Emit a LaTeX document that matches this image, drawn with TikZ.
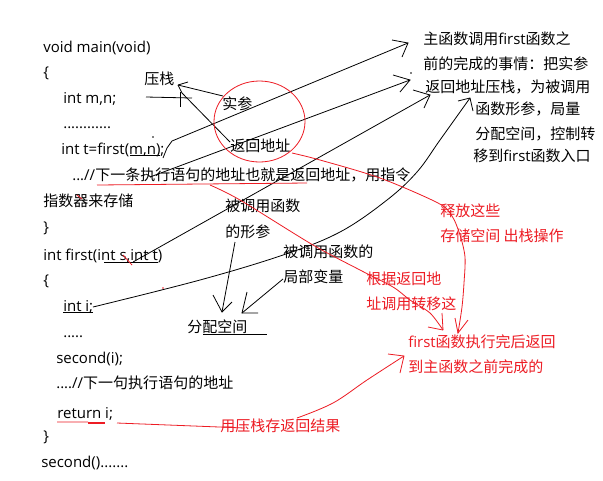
\documentclass[tikz,border=0pt]{standalone}
\usepackage{fontspec}
\setmainfont{Open Sans}
\newfontfamily\cjkf{Noto Sans CJK SC}
\newcommand\zh[1]{{\cjkf #1}}
\definecolor{pred}{HTML}{ED1C24}
\begin{document}
\begin{tikzpicture}[x=0.75pt,y=-0.75pt,
  txt/.style={anchor=base west,inner sep=0pt,font=\fontsize{11.25pt}{13pt}\selectfont},
  rtxt/.style={txt,text=pred},
  bl/.style={draw=black,line width=0.6pt},
  rl/.style={draw=pred,line width=0.6pt}]
\useasboundingbox (0,0) rectangle (603,480);
\fill[white] (0,0) rectangle (603,480);

% ---------- code ----------
\node[txt] (l1) at (43,52) {void main(void)};
\node[txt] (l2) at (43,77) {\{};
\node[txt] (l3) at (63,103) {int m,n;};
\node[txt] (l4) at (63,128) {............};
\node[txt] (l5) at (61,154) {int t=first(m,n);};
\node[txt] (l6) at (72,180) {...//\zh{下一条执行语句的地址也就是返回地址，用指令}};
\node[txt] (l7) at (43,206) {\zh{指数器来存储}};
\node[txt] (l8) at (43,232) {\}};
\node[txt] (l9) at (43,260) {int first(int s,int t)};
\node[txt] (l10) at (43,285) {\{};
\node[txt] (l11) at (63,311) {int i;};
\node[txt] (l12) at (63,337) {.....};
\node[txt] (l13) at (56,363) {second(i);};
\node[txt] (l14) at (56,388) {....//\zh{下一句执行语句的地址}};
\node[txt] (l15) at (57,418) {return i;};
\node[txt] (l16) at (43,441) {\}};
\node[txt] (l17) at (41,467) {second().......};

% ---------- black labels ----------
\node[txt] (yazhan) at (144,84) {\zh{压栈}};
\node[txt] (shican) at (222,109) {\zh{实参}};
\node[txt] (fhdz) at (230,151) {\zh{返回地址}};
\node[txt] (m1) at (423,44) {\zh{主函数调用}first\zh{函数之}};
\node[txt] (m2) at (423,69) {\zh{前的完成的事情：把实参}};
\node[txt] (m3) at (425,92) {\zh{返回地址压栈，为被调用}};
\node[txt] (m4) at (475,114) {\zh{函数形参，局量}};
\node[txt] (m5) at (475,139) {\zh{分配空间，控制转}};
\node[txt] (m6) at (473,161) {\zh{移到}first\zh{函数入口}};
\node[txt] (xc1) at (225,211) {\zh{被调用函数}};
\node[txt] (xc2) at (225,237) {\zh{的形参}};
\node[txt] (jb1) at (283,257) {\zh{被调用函数的}};
\node[txt] (jb2) at (283,282) {\zh{局部变量}};
\node[txt] (fp) at (187,332) {\zh{分配空间}};

% ---------- red labels ----------
\node[rtxt] (sf1) at (440,216) {\zh{释放这些}};
\node[rtxt] (sf2) at (440,241) {\zh{存储空间 出栈操作}};
\node[rtxt] (gj1) at (366,284) {\zh{根据返回地}};
\node[rtxt] (gj2) at (366,309) {\zh{址调用转移这}};
\node[rtxt] (fr1) at (408,347) {first\zh{函数执行完后返回}};
\node[rtxt] (fr2) at (408,372) {\zh{到主函数之前完成的}};
\node[rtxt] (yz) at (220,431) {\zh{用压栈存返回结果}};

% ---------- black strokes ----------
\coordinate (ytip) at (178,85);
\draw[bl] (ytip) -- (188,82);
\draw[bl] (ytip) -- (223,96);
\draw[bl] (ytip) -- (182,93) -- (230,142);
\draw[bl] (146,97) -- (192,98);
\draw[bl] (180,92) -- (180,107);

% underlines
\draw[bl] (130,155) -- (160,155);
\draw[bl] (104,262) -- (158,262);
\draw[bl] (63,312) -- (93,312);
\draw[bl] (203,334) -- (267,334);

% arrow 1: from first(m,n)
\coordinate (a1) at (408,43);
\draw[bl] (163,158) -- (167,148) -- (172,141) -- (a1);
\draw[bl] (392,40) -- (a1) -- (402,57);
% arrow 2
\coordinate (a2) at (410,80);
\draw[bl] (150,177) -- (a2);
\draw[bl] (393,75) -- (a2) -- (400,92);
% arrow 3: from int s
\coordinate (a3) at (430,95);
\draw[bl] (133,262) -- (a3);
\draw[bl] (413,90) -- (a3) -- (424,108);
% arrow 4: from int i
\coordinate (a4) at (470,98);
\draw[bl] plot[smooth,tension=0.6] coordinates {(93,307) (200,280) (283,255) (340,232) (387,200) (417,172) (440,140) (a4)};
\draw[bl] (458,101) -- (a4) -- (473,111);

% arrows to 分配空间
\coordinate (a5) at (222,312);
\draw[bl] (235,242) -- (a5);
\draw[bl] (213,295) -- (a5) -- (232,302);
\coordinate (a6) at (242,313);
\draw[bl] (283,279) -- (a6);
\draw[bl] (247,292) -- (a6) -- (258,313);

% dots
\fill (153,137) circle (0.8);
\fill (411,73) circle (0.8);

% ---------- red strokes ----------
\draw[rl] (259.5,121.5) ellipse [x radius=45.5, y radius=40.5];

\coordinate (r1) at (458,333);
\draw[rl] plot[smooth,tension=0.5] coordinates {(292,153) (320,160) (380,178) (438,203) (452,216) (460,235) (465,257) (464,283) (462,307) (r1)};
\draw[rl] (455,318) -- (r1) -- (468,320);

\draw[rl] (97,185) -- (307,183);
\coordinate (r2) at (443,330);
\draw[rl] plot[smooth,tension=0.5] coordinates {(210,185) (240,200) (313,245) (360,270) (393,287) (410,300) (430,313) (r2)};
\draw[rl] (442,313) -- (r2);
\draw[rl] (428,327) -- (r2);

\draw[rl] (57,422) -- (88,422) (117,423) -- (245,428);
\draw[draw=pred,line width=1.5pt] (88,423) -- (105,423);
\coordinate (r3) at (404,356);
\draw[rl] plot[smooth,tension=0.6] coordinates {(297,418) (333,403) (367,380) (r3)};
\draw[rl] (388,354) -- (r3) -- (400,373);

\draw[rl] (123,255) -- (132,265);
\draw[rl] (77,195) -- (82,199);
\fill[pred] (163,288) circle (0.8);
\end{tikzpicture}
\end{document}
